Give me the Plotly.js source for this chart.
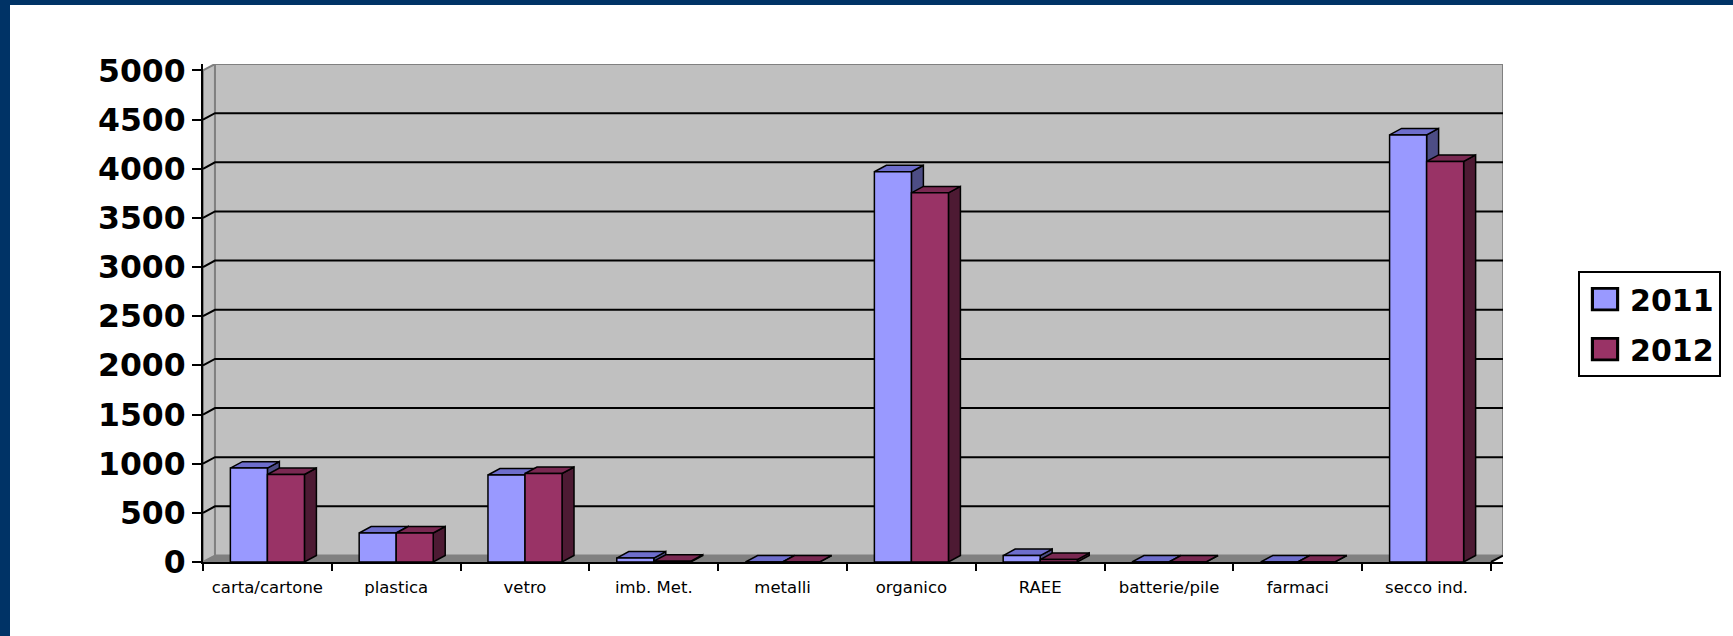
<!DOCTYPE html>
<html>
<head>
<meta charset="utf-8">
<script src="https://cdn.plot.ly/plotly-3.0.1.min.js"></script>
<style>
  html, body { margin: 0; padding: 0; background: #ffffff; }
  #wrap { position: relative; width: 1733px; height: 636px; overflow: hidden; }
  #chart { position: absolute; left: 0; top: 0; width: 1733px; height: 636px; }
  .strip { position: absolute; background: #003366; pointer-events: none; }
</style>
</head>
<body>
<div id="wrap">
  <div id="chart"></div>
  <div class="strip" style="left:0;top:0;width:1733px;height:5px;"></div>
  <div class="strip" style="left:0;top:0;width:10px;height:636px;"></div>
</div>
<script>
// ---- data ----
const categories = ["carta/cartone", "plastica", "vetro", "imb. Met.", "metalli", "organico", "RAEE", "batterie/pile", "farmaci", "secco ind."];
const values2011 = [955, 295, 885, 40, 0, 3970, 65, 0, 0, 4345];
const values2012 = [890, 295, 900, 8, 0, 3755, 25, 0, 0, 4075];
const seriesNames = ["2011", "2012"];
const yTicks = [0, 500, 1000, 1500, 2000, 2500, 3000, 3500, 4000, 4500, 5000];

// ---- styling ----
const frontColors = ["#9999FF", "#993366"];
const topColors = ["#6E6ECC", "#7A2952"];
const sideColors = ["#4D4D85", "#4D1A33"];
const BARGAP = 0.425;
const DX = 0.093;   // depth along x (category units)
const DY = 66;      // depth along y (data units)
const YMAX = 5000;

const barW = (1 - BARGAP) / 2;

const traces = [values2011, values2012].map((vals, s) => ({
  type: "bar",
  name: seriesNames[s],
  x: categories,
  y: vals,
  legendgroup: "g" + s,
  marker: { color: frontColors[s], line: { color: "#000000", width: 1.5 } },
  hoverinfo: "x+y+name"
}));

const shapes = [];
const nCat = categories.length;
const xL = -0.5, xR = nCat - 0.5;

// walls & floor
shapes.push({ type: "path", xref: "x", yref: "y", layer: "below",
  path: `M${xL},0 L${xL + DX},${DY} L${xL + DX},${YMAX + DY} L${xL},${YMAX} Z`,
  fillcolor: "#C0C0C0", line: { color: "#808080", width: 2 } });
shapes.push({ type: "path", xref: "x", yref: "y", layer: "below",
  path: `M${xL + DX},${DY} L${xR + DX},${DY} L${xR + DX},${YMAX + DY} L${xL + DX},${YMAX + DY} Z`,
  fillcolor: "#C0C0C0", line: { color: "#808080", width: 2 } });
shapes.push({ type: "path", xref: "x", yref: "y", layer: "below",
  path: `M${xL},0 L${xR},0 L${xR + DX},${DY} L${xL + DX},${DY} Z`,
  fillcolor: "#808080", line: { color: "#808080", width: 1 } });

// gridlines on left wall and back wall
yTicks.forEach(t => {
  if (t === 0 || t === YMAX) return;
  shapes.push({ type: "path", xref: "x", yref: "y", layer: "below",
    path: `M${xL},${t} L${xL + DX},${t + DY} L${xR + DX},${t + DY}`,
    line: { color: "#000000", width: 2 } });
});
// edge diagonal bottom-right
shapes.push({ type: "path", xref: "x", yref: "y", layer: "below",
  path: `M${xR},0 L${xR + DX},${DY}`, line: { color: "#000000", width: 2 } });

// 3D top and side faces of bars
for (let i = 0; i < nCat; i++) {
  [values2011, values2012].forEach((vals, s) => {
    const v = vals[i];
    const x0 = i - barW + s * barW;
    const x1 = x0 + barW;
    shapes.push({ type: "path", xref: "x", yref: "y", layer: "below",
      path: `M${x1},0 L${x1 + DX},${DY} L${x1 + DX},${v + DY} L${x1},${v} Z`,
      fillcolor: sideColors[s], line: { color: "#000000", width: 1.5 } });
    shapes.push({ type: "path", xref: "x", yref: "y", layer: "below",
      path: `M${x0},${v} L${x0 + DX},${v + DY} L${x1 + DX},${v + DY} L${x1},${v} Z`,
      fillcolor: topColors[s], line: { color: "#000000", width: 1.5 } });
  });
}

const layout = {
  width: 1733,
  height: 636,
  margin: { l: 203, r: 230, t: 64, b: 74, pad: 0 },
  paper_bgcolor: "#ffffff",
  plot_bgcolor: "rgba(0,0,0,0)",
  barmode: "group",
  bargap: BARGAP,
  bargroupgap: 0,
  showlegend: true,
  legend: {
    x: 1.0577, y: 0.584, xanchor: "left", yanchor: "top",
    bgcolor: "#ffffff", bordercolor: "#000000", borderwidth: 2,
    font: { family: "DejaVu Sans", size: 30, color: "#000000", weight: "bold" },
    tracegroupgap: 8,
    traceorder: "grouped",
    itemwidth: 40
  },
  xaxis: {
    type: "category",
    range: [xL, xR + DX],
    showgrid: false,
    zeroline: false,
    showline: true, linecolor: "#000000", linewidth: 2,
    ticks: "outside", tickson: "boundaries", ticklen: 7, tickwidth: 2, tickcolor: "#000000",
    tickfont: { family: "DejaVu Sans", size: 16.5, color: "#000000" },
    ticklabelstandoff: 9
  },
  yaxis: {
    range: [0, YMAX + DY],
    tickvals: yTicks,
    ticktext: yTicks.map(String),
    showgrid: false,
    zeroline: false,
    showline: true, linecolor: "#000000", linewidth: 2,
    ticks: "outside", ticklen: 9, tickwidth: 2, tickcolor: "#000000",
    tickfont: { family: "DejaVu Sans", size: 31.5, color: "#000000", weight: "bold" },
    ticklabelstandoff: 0
  },
  shapes: shapes
};

Plotly.newPlot("chart", traces, layout, { displayModeBar: false, staticPlot: true }).then(gd => {
  gd.querySelectorAll(".legend .legendpoints path").forEach(p => {
    const old = p.getAttribute("transform") || "";
    p.setAttribute("transform", old + " scale(2.1,1.8)");
  });
});
</script>
</body>
</html>
